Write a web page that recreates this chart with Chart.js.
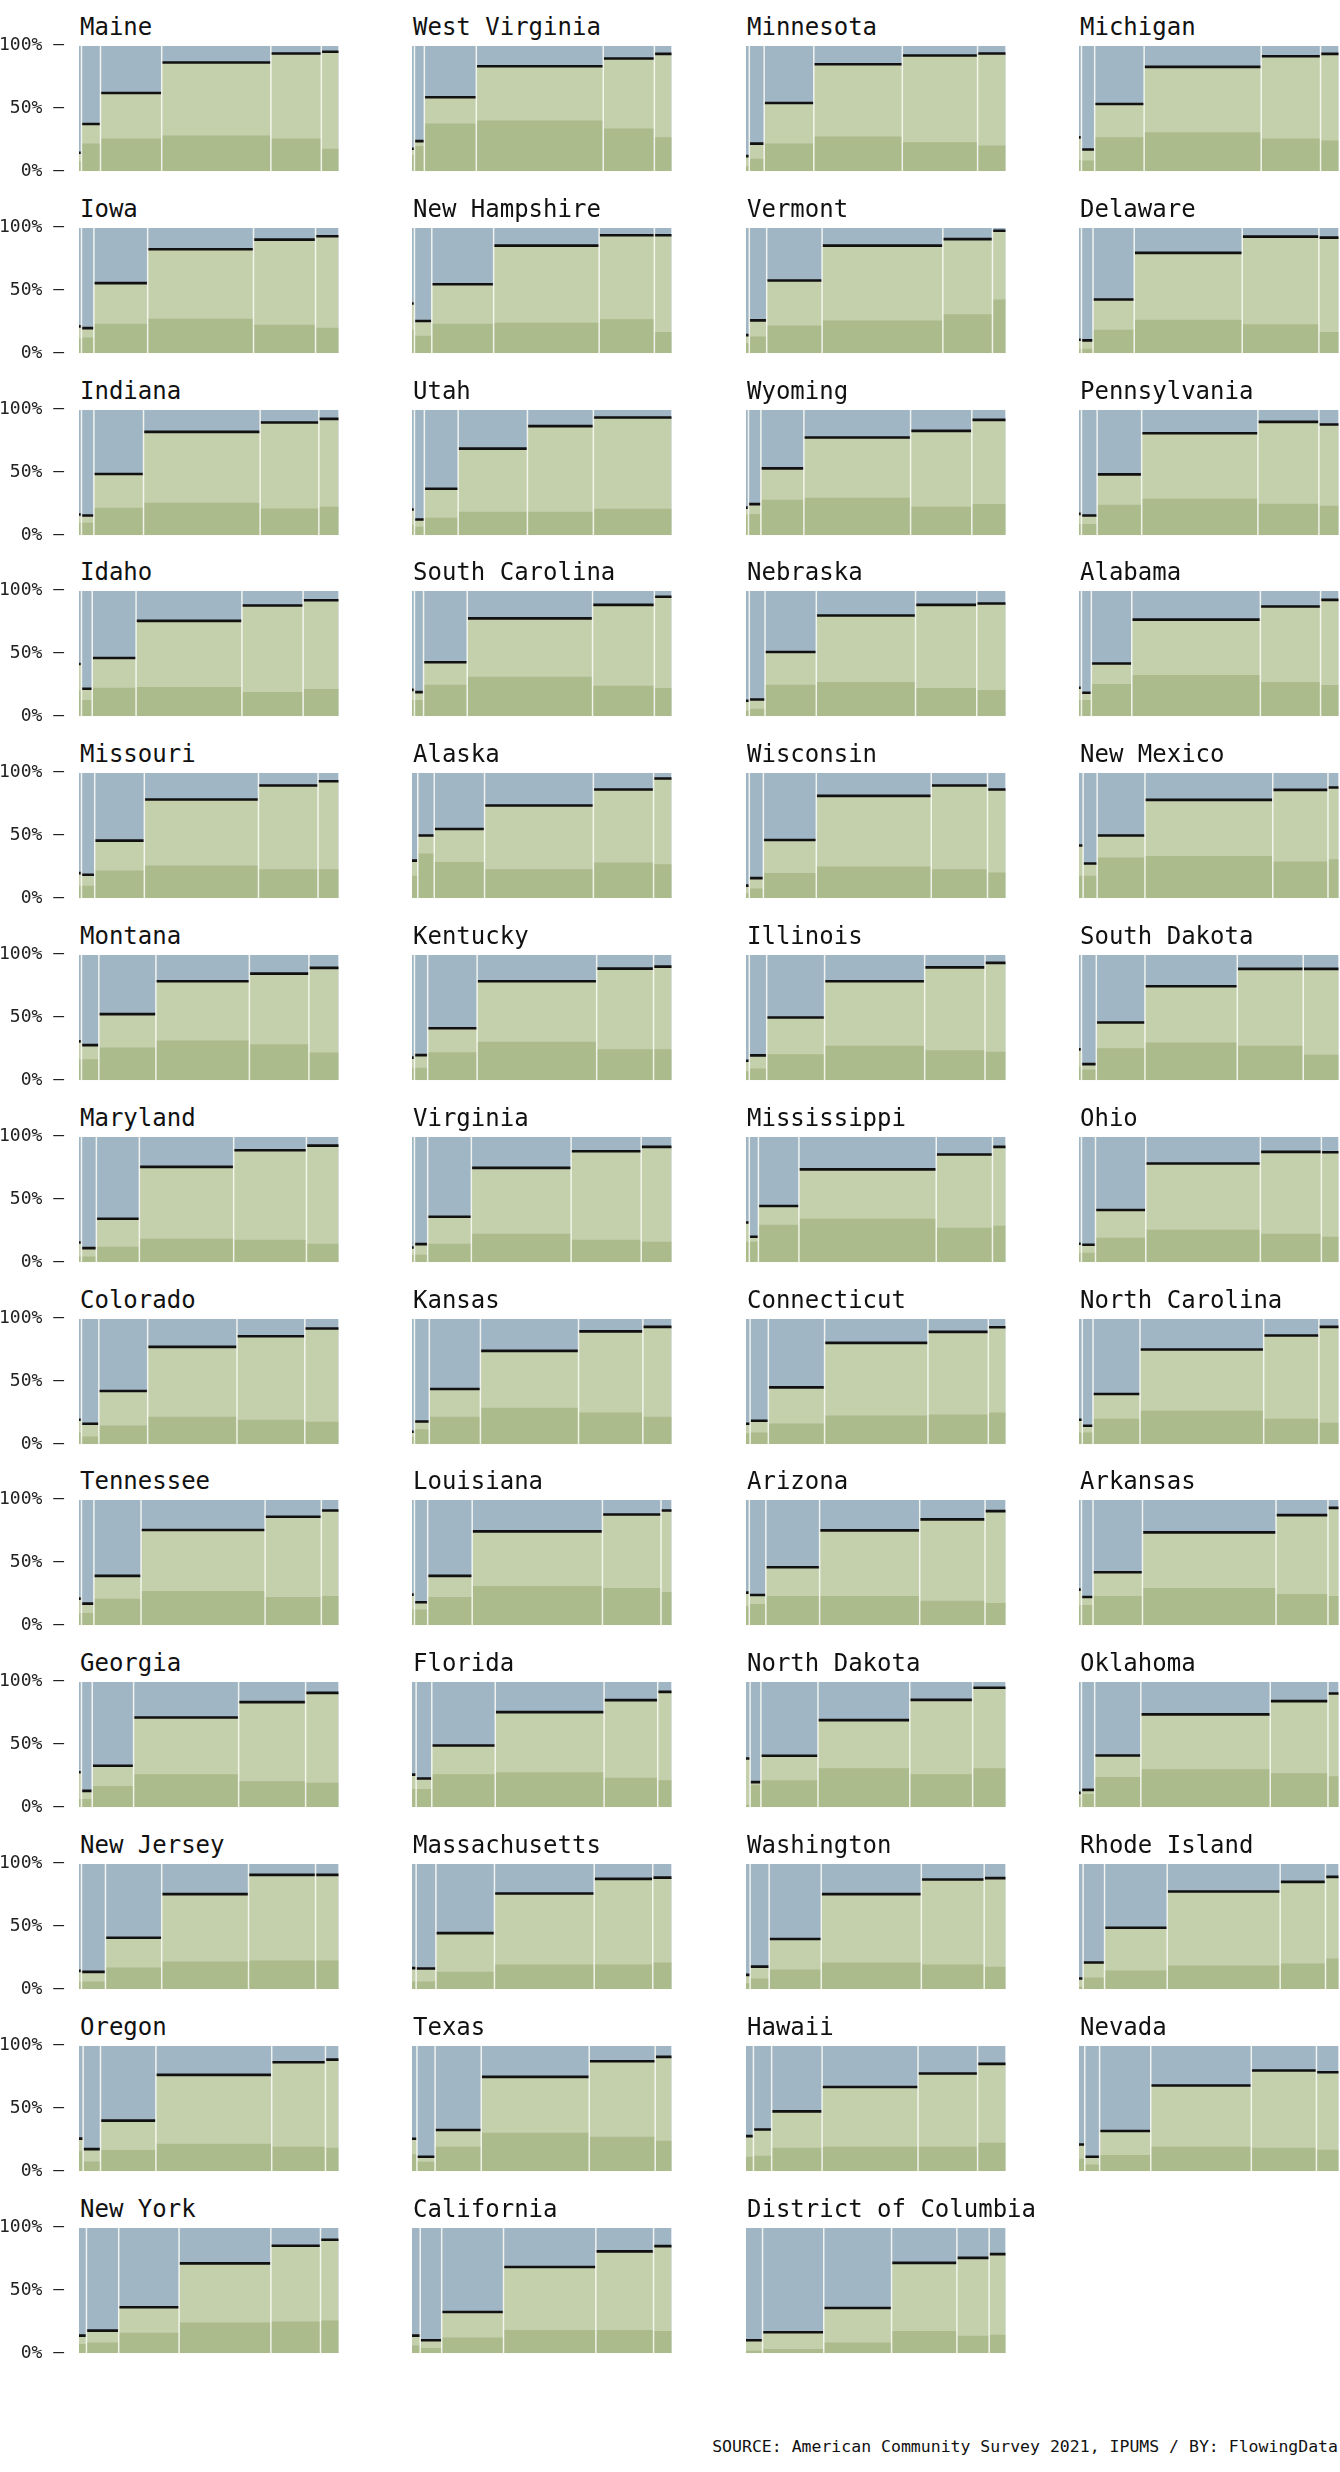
<!DOCTYPE html>
<html><head><meta charset="utf-8">
<script src="https://cdn.jsdelivr.net/npm/chart.js@4.4.1/dist/chart.umd.min.js"></script>
<style>
html,body{margin:0;padding:0;background:#fff;}
body{width:1340px;height:2472px;position:relative;overflow:hidden;font-family:'DejaVu Sans Mono',monospace;color:#111;}
.title{position:absolute;font-size:24px;line-height:24px;white-space:nowrap;}
.cv{position:absolute;}
#source{position:absolute;right:2px;top:2439px;font-size:16.5px;line-height:16.5px;white-space:nowrap;}
</style></head><body>
<div id="source">SOURCE: American Community Survey 2021, IPUMS / BY: FlowingData</div>
<script>
const states = ["Maine","West Virginia","Minnesota","Michigan","Iowa","New Hampshire","Vermont","Delaware","Indiana","Utah","Wyoming","Pennsylvania","Idaho","South Carolina","Nebraska","Alabama","Missouri","Alaska","Wisconsin","New Mexico","Montana","Kentucky","Illinois","South Dakota","Maryland","Virginia","Mississippi","Ohio","Colorado","Kansas","Connecticut","North Carolina","Tennessee","Louisiana","Arizona","Arkansas","Georgia","Florida","North Dakota","Oklahoma","New Jersey","Massachusetts","Washington","Rhode Island","Oregon","Texas","Hawaii","Nevada","New York","California","District of Columbia"];

// relative column widths (share of population in each group)
const colWidths = [
[3,23,74,132,61,21],[3,12,63,154,62,21],[4,18,60,107,91,34],[3,16,60,142,72,22],
[3,15,65,128,75,28],[3,21,75,128,67,21],[4,21,67,146,60,16],[3,14,50,131,93,24],
[3,15,60,141,71,24],[3,12,41,84,80,95],[3,15,52,129,74,41],[3,19,54,141,74,24],
[3,13,53,128,74,43],[3,11,53,152,75,21],[4,19,62,120,74,35],[3,12,49,156,73,22],
[3,16,60,138,72,25],[7,20,61,132,73,22],[4,17,64,139,68,22],[5,17,58,155,67,13],
[3,21,69,113,72,36],[3,16,60,145,69,22],[4,21,70,121,73,25],[3,18,59,112,80,43],
[3,18,52,114,88,39],[3,16,53,121,85,37],[4,11,49,166,68,16],[3,17,61,139,74,21],
[3,21,59,108,82,41],[3,18,62,119,78,35],[5,22,68,125,73,21],[4,13,57,150,67,24],
[3,15,57,150,68,21],[3,16,54,158,71,13],[4,20,65,121,79,25],[3,14,60,162,63,13],
[3,13,50,127,81,40],[5,19,77,132,65,17],[5,13,69,111,76,40],[3,16,56,157,70,13],
[3,29,68,105,81,28],[5,24,71,121,71,23],[5,23,63,121,76,26],[5,26,76,137,55,16],
[5,21,67,140,65,16],[6,22,56,131,80,20],[9,22,61,116,72,34],[7,18,62,122,79,27],
[9,39,73,111,60,22],[10,26,75,112,70,22],[20,74,82,79,39,20]];

// top of the dark green layer (%)
const darkTop = [
[8,22,26,28.5,26,18],[13,20,38,40.5,34,27],[4,10,22,27.7,23,20.5],[9,8.5,27,31,26,24.5],
[12,12.6,23.5,27.5,22.7,20.3],[18.7,14,23.5,24.3,27,17],[8,13.4,22,26,31,42.8],[3.5,3.5,18.7,26.7,23,17],
[10,10,21.9,25.9,21.3,22.7],[8.5,6.7,13.9,18.7,18.7,21],[16.5,17,28.3,29.9,22.7,24.8],[9,9,24.3,29,25,23.5],
[20.5,13,22.7,23.2,19.2,21.6],[13,13,25,31.5,24.3,22.4],[4.5,5.9,25,27.2,22.4,20.8],[13,13,25.6,32.8,27.2,24.8],
[10,10,22,26,23,23],[18,35.7,28.8,23,28.5,27],[4,7.7,20,25.3,23,20.5],[18,18,32.5,33.6,29.3,31],
[16.8,16.8,26,31.6,28.6,22],[10,10,22.2,30.7,24.6,24.6],[7.2,9.4,20.6,27.5,23.8,22.7],[10.7,8.6,25.4,30,27.5,20.3],
[4.5,4.5,12.3,18.7,17.9,14.7],[5.9,5.9,14.7,22.7,17.9,16.3],[16.3,16.3,29.9,34.7,27.5,29],[7.5,7.5,19.5,25.9,22.7,20.3],
[9.3,6.1,15,21.9,19.5,17.9],[6,12,21.9,29,25.3,21.9],[8.8,9.3,16.5,22.9,23.7,25.3],[9.3,9.3,20.3,26.7,20.3,17.1],
[9.8,9.8,21,27.3,22.5,23.3],[12.5,12.5,22.5,31.3,29.7,26.5],[15.4,17,23.3,23.3,19.4,17.8],[16.2,16.2,23.3,29.7,24.9,23.3],
[6.6,6.6,17,26.3,20.7,19.4],[14.6,14.6,26.3,27.9,23.4,21.5],[2,18,21.5,31.1,26.3,31.1],[8,10.6,24,30.3,27.1,24.7],
[6.1,6.1,17.3,22,22.9,22.9],[6.1,6.1,14,19.7,19.7,21.3],[4.8,8.5,15.7,21.3,19.7,18],[2,9.3,14.9,18.9,20.5,24.5],
[16.3,7.7,17,21.9,19.5,18.7],[13.6,7.5,19.5,30.7,27.5,24.3],[11.5,12.3,18.7,19.5,19.5,22.7],[9.9,5.3,13,19.5,18.7,17.1],
[7.4,8.5,16.4,24.4,25.2,26],[6.1,4.2,12.5,18.6,18.6,17.8],[2,3.4,8.5,17.8,14,14.8]];

// top of the light green layer, marked by the black line (%)
const lightTop = [
[14.7,37.6,62.4,86.7,93.9,95.2],[17.9,24,59,83.7,89.9,93.6],[12,22,54.4,85.3,92.3,93.9],[27,17.3,53.6,83.2,91.7,93.6],
[21.4,20,55.9,82.9,90.6,93.3],[39.6,25.7,55,85.8,94.1,94.1],[14.4,26.2,58,85.8,91,97.6],[10.7,10.2,42.8,80,93,92.2],
[16.5,15.7,48.8,82.4,89.9,92.8],[20.5,12.5,37,69,87,93.9],[22,24.8,53.3,77.9,83.2,92],[17,15.7,48.5,81.3,90.4,88.3],
[41.6,21.9,46.4,76,88.3,92.5],[21,19.2,43,78,88.8,95.2],[12.3,13.3,51.2,80.3,88.8,89.9],[22.7,18.7,42,77,87.5,92.8],
[20,18.7,45.9,78.7,89.9,93.3],[30,50,55.2,73.9,86.7,95.5],[10,16,46.4,81.6,89.9,86.7],[42,27.7,50,78.4,86.4,88.3],
[31,28,52.7,78.9,85,89.6],[18,20,41.4,78.9,89,90.6],[15.5,19.8,50,78.9,90,93.6],[24.6,12.8,46,74.9,88.8,88.8],
[15.7,11.2,34.7,76,89.3,93],[11.7,14.4,36.3,75.2,88.5,92],[31.7,20.3,44.8,74,85.9,92],[14.7,13.9,41.6,78.7,88,87.7],
[19.5,16.3,42.4,77.6,86.1,92.3],[9.9,18.1,44,74.4,90,93.6],[16.3,18.7,45.3,80.8,89.6,93.3],[19.5,14.7,40,75.5,86.7,93.6],
[21.2,17.2,39.3,75.9,86.5,91.5],[24.4,18.3,39.3,74.8,88.3,91.5],[26,24.1,46.2,75.6,84.4,91],[28.4,22.5,42.2,74,87.8,93.6],
[27.9,13,33,71.5,83.8,91.2],[26,22.9,49.2,75.8,85.4,92],[38.8,20,41,69.4,85.6,95.2],[11.4,13.8,41.2,74,84.6,90.7],
[14.6,13.8,41,75.8,91.2,91.2],[16.8,16.5,44.7,76.3,88,89],[11.4,18,40,75.8,87.5,88.6],[8.5,21.3,49,77.9,85.6,89.6],
[26,17.6,40.3,76.8,86.9,89],[25.9,11.5,32.8,75.2,87.7,91.2],[28,33.3,47.7,67.2,77.9,85.6],[21.3,11.5,32,68.3,80.3,78.9],
[14,18,36.6,71.6,85.7,90.5],[14,10.3,32.9,68.7,81.2,85.4],[10.3,16.7,36,72,76,79]];

const yTickValues = [0, 50, 100];
const yTickLabels = ['0%', '50%', '100%'];

const COLORS = {blue:'#a0b6c4', light:'#c4cfac', dark:'#abbb8b', line:'#111111', sep:'rgba(248,250,244,0.9)'};
const canvasLeft = [0, 333, 667, 1000];
const CW = 340, AXW = 79, PAD = 4, PH = 125;

states.forEach((name, i) => {
  const col = i % 4, row = Math.floor(i / 4);
  const plotTop = Math.round(46 + row * 181.8);
  const t = document.createElement('div');
  t.className = 'title';
  t.textContent = name;
  t.style.left = (canvasLeft[col] + AXW + 1) + 'px';
  t.style.top = (plotTop - 31) + 'px';
  document.body.appendChild(t);

  const c = document.createElement('canvas');
  c.className = 'cv';
  const H0 = PH + 30;
  c.width = CW; c.height = H0;
  c.style.width = CW + 'px'; c.style.height = H0 + 'px';
  c.style.left = canvasLeft[col] + 'px';
  document.body.appendChild(c);

  const w = colWidths[i];
  const total = w.reduce((a, b) => a + b, 0);
  const bounds = [0];
  w.forEach(v => bounds.push(bounds[bounds.length - 1] + v / total * 100));
  const n = w.length;
  const stepPts = arr => bounds.map((b, k) => ({x: b, y: arr[Math.min(k, n - 1)]}));
  const full = w.map(() => 100);

  const blackPts = [];
  for (let k = 0; k < n; k++) {
    blackPts.push({x: bounds[k], y: lightTop[i][k]}, {x: bounds[k + 1], y: lightTop[i][k]}, {x: bounds[k + 1], y: null});
  }
  const sepPts = [];
  for (let k = 1; k < n; k++) {
    sepPts.push({x: bounds[k], y: 0}, {x: bounds[k], y: 100}, {x: bounds[k], y: null});
  }

  const base = {showLine: true, pointRadius: 0, pointHoverRadius: 0, spanGaps: false};
  const chart = new Chart(c, {
    type: 'scatter',
    data: {datasets: [
      Object.assign({}, base, {data: sepPts, borderColor: COLORS.sep, borderWidth: 1.5, fill: false}),
      Object.assign({}, base, {data: blackPts, borderColor: COLORS.line, borderWidth: 2.6, fill: false, borderCapStyle: 'butt'}),
      Object.assign({}, base, {data: stepPts(darkTop[i]), stepped: true, borderWidth: 0, borderColor: 'rgba(0,0,0,0)', backgroundColor: COLORS.dark, fill: 'origin'}),
      Object.assign({}, base, {data: stepPts(lightTop[i]), stepped: true, borderWidth: 0, borderColor: 'rgba(0,0,0,0)', backgroundColor: COLORS.light, fill: 'origin'}),
      Object.assign({}, base, {data: stepPts(full), stepped: true, borderWidth: 0, borderColor: 'rgba(0,0,0,0)', backgroundColor: COLORS.blue, fill: 'origin'})
    ]},
    options: {
      responsive: false, maintainAspectRatio: false, animation: false, events: [],
      layout: {padding: {top: PAD, bottom: PAD, left: 0, right: 0}},
      plugins: {legend: {display: false}, tooltip: {enabled: false}, title: {display: false}},
      scales: {
        x: {type: 'linear', min: 0, max: 100, display: false},
        y: {
          type: 'linear', min: 0, max: 100,
          afterFit: s => { s.width = AXW; },
          afterBuildTicks: s => { s.ticks = yTickValues.map(v => ({value: v})); },
          grid: {display: false}, border: {display: false},
          ticks: {
            display: true, padding: 7, color: col === 0 ? '#222' : 'rgba(0,0,0,0)',
            font: {family: 'DejaVu Sans Mono', size: 18},
            callback: (v, idx) => yTickLabels[idx] + ' \u2013'
          }
        }
      }
    }
  });
  // make the plotting area exactly PH tall and align it with the grid of panels
  for (let pass = 0; pass < 2; pass++) {
    const ca = chart.chartArea;
    const delta = PH - (ca.bottom - ca.top);
    if (Math.abs(delta) > 0.01) {
      chart.resize(CW, Math.round(chart.height + delta));
    }
  }
  c.style.top = (plotTop - chart.chartArea.top) + 'px';
});
</script>
</body></html>
